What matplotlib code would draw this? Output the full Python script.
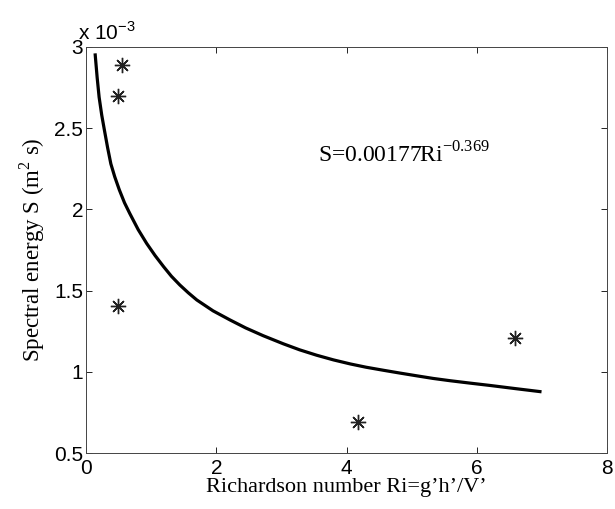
import matplotlib
matplotlib.use('Agg')
import matplotlib.pyplot as plt

# measured points (Ri, S in units of 1e-3 m^2 s)
ri_obs = [0.55, 0.49, 0.49, 4.18, 6.59]
s_obs = [2.89, 2.70, 1.405, 0.69, 1.21]

# fitted curve
ri_fit = [0.14, 0.17, 0.20, 0.24, 0.28, 0.33, 0.38, 0.44, 0.51, 0.59,
          0.67, 0.80, 0.93, 1.06, 1.19, 1.31, 1.44, 1.57, 1.70, 1.95,
          2.21, 2.45, 2.72, 3.03, 3.28, 3.54, 3.80, 4.06, 4.30, 4.57,
          4.82, 5.08, 5.33, 5.59, 5.90, 6.20, 6.60, 6.97]
s_fit = [2.95, 2.81, 2.69, 2.58, 2.49, 2.38, 2.28, 2.20, 2.12, 2.04,
         1.975, 1.875, 1.79, 1.715, 1.647, 1.588, 1.534, 1.486, 1.442, 1.375,
         1.319, 1.270, 1.222, 1.172, 1.135, 1.102, 1.073, 1.048, 1.028, 1.009,
         0.992, 0.975, 0.959, 0.945, 0.930, 0.916, 0.896, 0.878]

fit_label = 'S=0.00177Ri$^{\\mathregular{-0.369}}$'

serif = 'Liberation Serif'
sans = 'Liberation Sans'

fig = plt.figure(figsize=(6.15, 5.09), dpi=100)
ax = fig.add_axes([0.140, 0.110, 0.847, 0.798])

ax.plot(ri_fit, s_fit, color='black', lw=2.3, solid_joinstyle='round')
ax.plot(ri_obs, s_obs, ls='none', marker=(8, 2, 0), color='#222222',
        markersize=11, markeredgewidth=1.0)

ax.set_xlim(0, 8)
ax.set_ylim(0.5, 3)
ax.set_xticks([0, 2, 4, 6, 8])
ax.set_yticks([0.5, 1, 1.5, 2, 2.5, 3])
ax.set_yticklabels(['0.5', '1', '1.5', '2', '2.5', '3'])
ax.tick_params(direction='in', top=True, right=True, length=4,
               width=0.6, labelsize=15)
ax.tick_params(axis='x', pad=4)
ax.tick_params(axis='y', pad=2)
for lab in ax.get_xticklabels() + ax.get_yticklabels():
    lab.set_fontfamily(sans)
for sp in ax.spines.values():
    sp.set_linewidth(0.7)
    sp.set_color('#444444')

ax.text(3.56, 2.335, fit_label, fontsize=17, family=serif, va='center')
ax.text(-0.015, 1.008, 'x 10$^{\\mathregular{-3}}$', transform=ax.transAxes,
        fontsize=15, family=sans, va='bottom', ha='left')

ax.set_xlabel('Richardson number Ri=g’h’/V’', fontsize=16,
              family=serif, labelpad=0.5)
ax.set_ylabel('Spectral energy S (m$^{\\mathregular{2}}$ s)', fontsize=16.5,
              family=serif, labelpad=5)

fig.savefig('out.png', dpi=100)
